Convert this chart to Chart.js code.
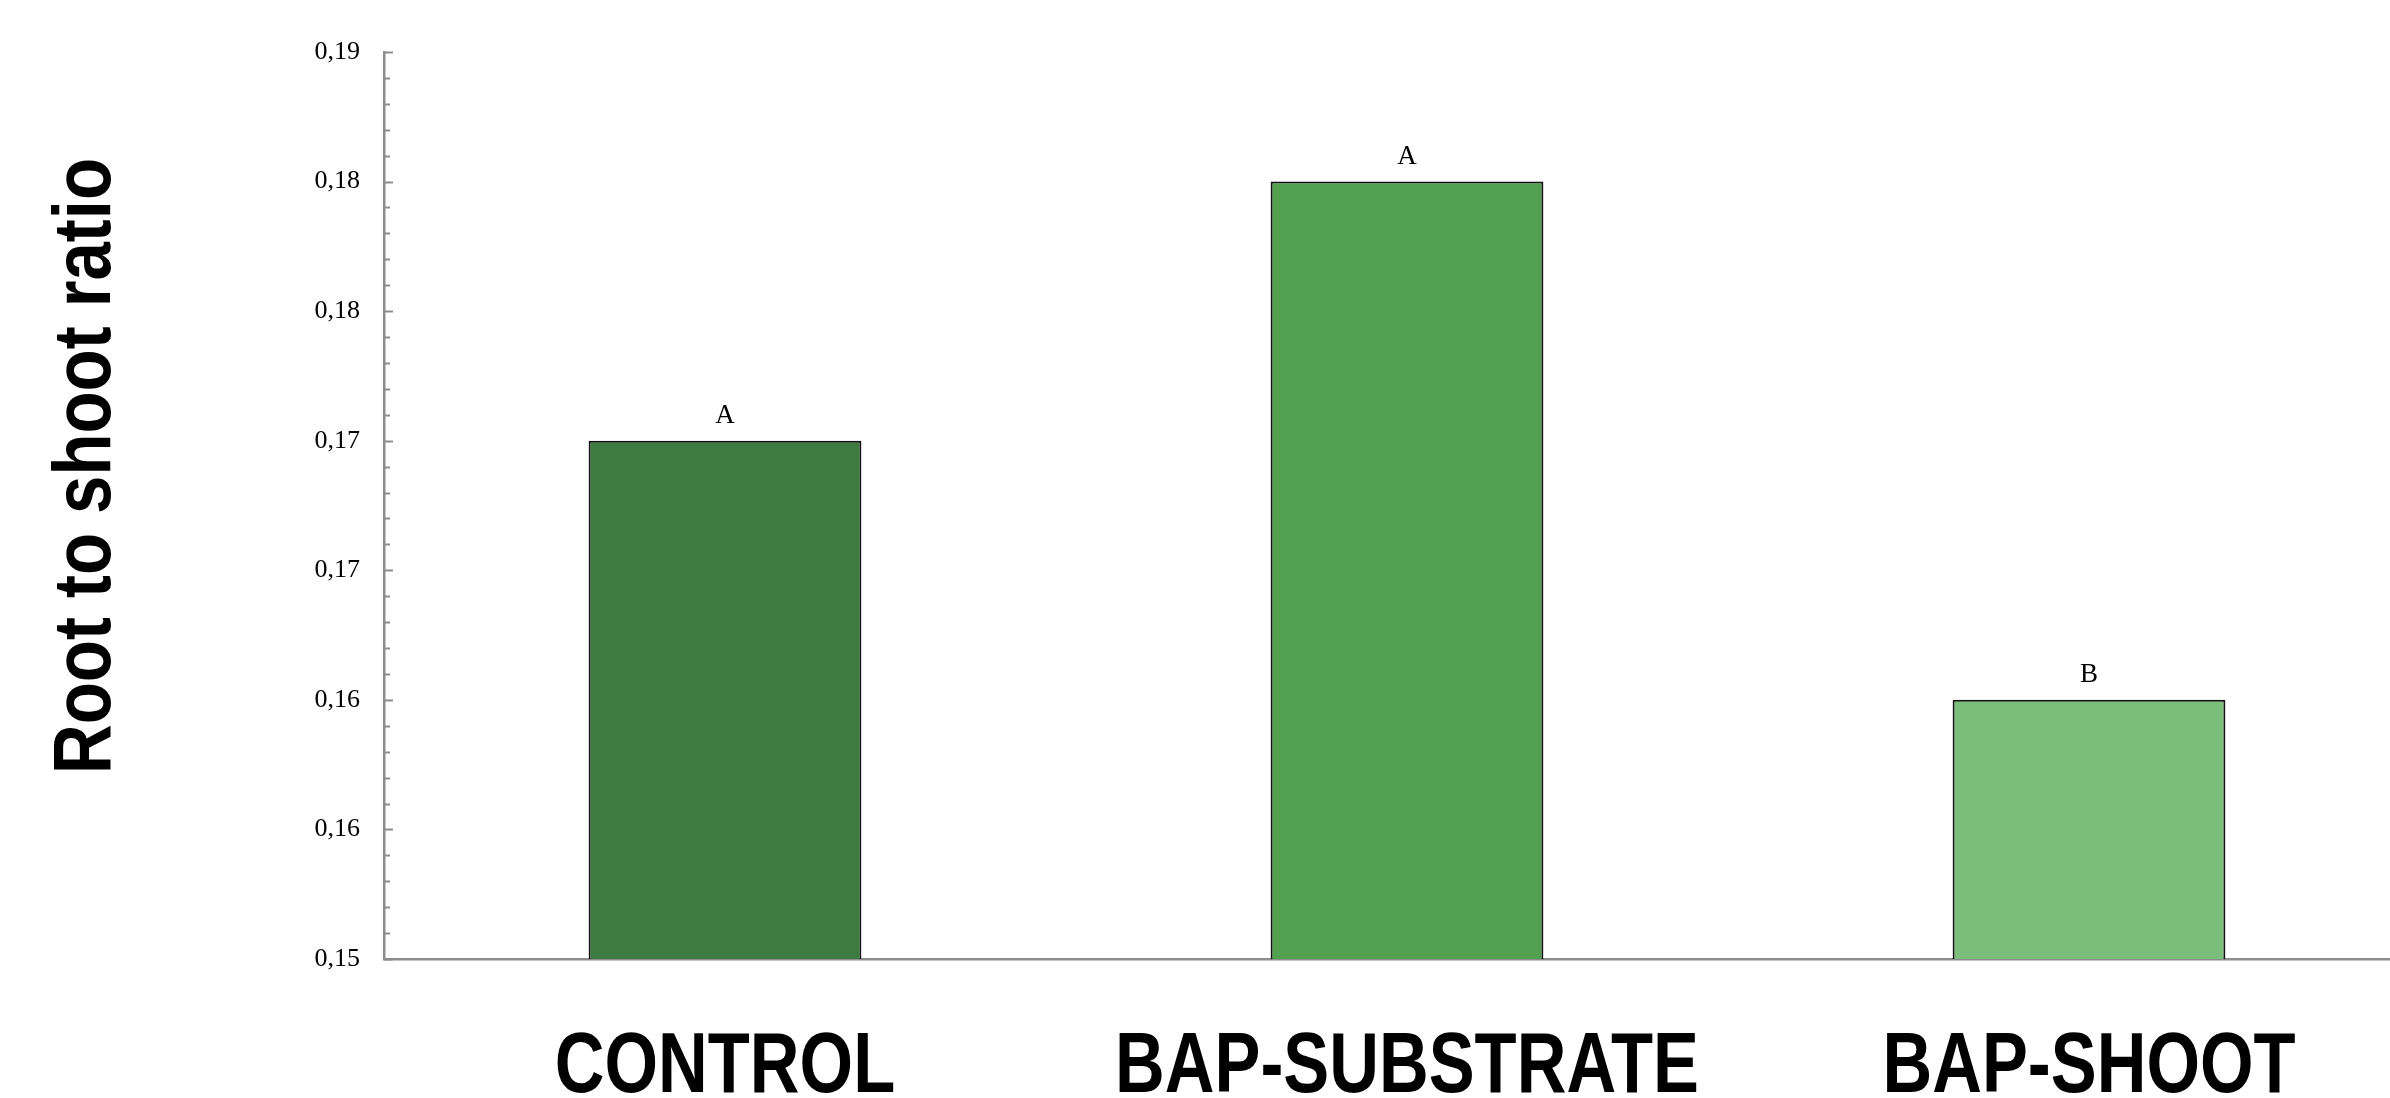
<!DOCTYPE html>
<html>
<head>
<meta charset="utf-8">
<title>Root to shoot ratio</title>
<script src="https://cdn.jsdelivr.net/npm/chart.js@4.4.1/dist/chart.umd.min.js"></script>
<style>
    html, body { margin: 0; padding: 0; background: #fff; overflow: hidden; }
    #grafico { display: block; }
</style>
</head>
<body>
<canvas id="grafico" width="2430" height="1098"></canvas>
<script>
    // dados
    const categorias = ['CONTROL', 'BAP-SUBSTRATE', 'BAP-SHOOT'];
    const valores = [0.170, 0.180, 0.160];
    const letras = ['A', 'A', 'B'];
    const cores = ['#3d7b40', '#52a150', '#7bbd7a'];
    const tituloY = 'Root to shoot ratio';
    const eixoMin = 0.150;
    const eixoMax = 0.185;

    const corEixo = '#8c8c8c';

    // rótulo do eixo y: arredonda para 2 casas (0,155 -> 0,16)
    function formatarTick(valor) {
        let milesimos = Math.round(valor * 1000);
        if (milesimos % 5 !== 0) {
            return '';
        }
        let centesimos = Math.floor(milesimos / 10 + 0.5);
        return (centesimos / 100).toFixed(2).replace('.', ',');
    }

    // plugin para os detalhes que o Chart.js não faz sozinho
    const pluginDetalhes = {
        id: 'detalhes',
        afterDraw(chart) {
            const ctx = chart.ctx;
            const eixoY = chart.scales.y;
            const eixoX = chart.scales.x;
            const area = chart.chartArea;

            ctx.save();

            // marcas maiores e menores voltadas para dentro
            ctx.strokeStyle = corEixo;
            ctx.lineWidth = 2;
            eixoY.ticks.forEach(function (t) {
                let y = Math.round(eixoY.getPixelForValue(t.value)) + 0.5;
                let comp = Math.round(t.value * 1000) % 5 === 0 ? 9 : 6;
                ctx.beginPath();
                ctx.moveTo(area.left, y);
                ctx.lineTo(area.left + comp, y);
                ctx.stroke();
            });

            // letras acima das barras
            ctx.fillStyle = '#000';
            ctx.textAlign = 'center';
            ctx.textBaseline = 'alphabetic';
            ctx.font = '27px "Liberation Serif", "Times New Roman", serif';
            const meta = chart.getDatasetMeta(0);
            meta.data.forEach(function (barra, i) {
                ctx.fillText(letras[i], barra.x, barra.y - 18);
            });

            // categorias do eixo x (negrito condensado)
            ctx.font = 'bold 85px "Liberation Sans", Arial, sans-serif';
            categorias.forEach(function (cat, i) {
                let x = eixoX.getPixelForValue(i);
                ctx.save();
                ctx.translate(x, area.bottom + 133);
                ctx.scale(0.81, 1);
                ctx.fillText(cat, 0, 0);
                ctx.restore();
            });

            // título do eixo y
            ctx.save();
            ctx.translate(110, 466);
            ctx.rotate(-Math.PI / 2);
            ctx.scale(0.84, 1);
            ctx.font = 'bold 82px "Liberation Sans", Arial, sans-serif';
            ctx.fillText(tituloY, 0, 0);
            ctx.restore();

            ctx.restore();
        }
    };

    // Criando estrutura para plotar gráfico - dados
    let dados = {
        labels: categorias,
        datasets: [{
            data: valores,
            backgroundColor: cores,
            borderColor: '#111',
            borderWidth: 2,
            barPercentage: 0.4,
            categoryPercentage: 1.0
        }]
    };

    const config = {
        type: 'bar',
        data: dados,
        options: {
            responsive: false,
            animation: false,
            layout: { padding: { top: 52, right: 0, bottom: 0, left: 0 } },
            plugins: {
                legend: { display: false },
                tooltip: { enabled: false }
            },
            scales: {
                x: {
                    grid: { display: false },
                    border: { display: true, color: corEixo, width: 2.5 },
                    ticks: { display: false },
                    afterFit: function (scale) { scale.height = 139; }
                },
                y: {
                    min: eixoMin,
                    max: eixoMax,
                    grid: { display: false, drawTicks: false },
                    border: { display: true, color: corEixo, width: 2.5 },
                    ticks: {
                        stepSize: 0.001,
                        autoSkip: false,
                        padding: 24,
                        color: '#000',
                        font: { family: '"Liberation Serif", "Times New Roman", serif', size: 26 },
                        callback: function (valor) { return formatarTick(valor); }
                    },
                    afterFit: function (scale) { scale.width = 384; }
                }
            }
        },
        plugins: [pluginDetalhes]
    };

    // Adicionando gráfico criado na tela
    let meuGrafico = new Chart(document.getElementById('grafico'), config);
</script>
</body>
</html>
